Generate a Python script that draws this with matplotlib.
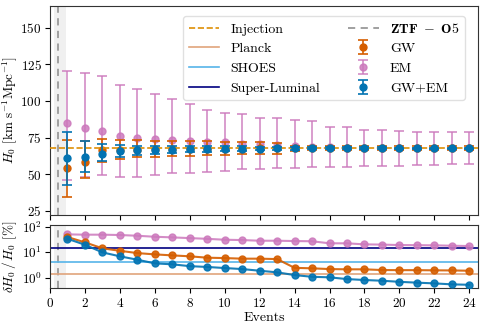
import numpy as np
import matplotlib
matplotlib.use("Agg")
import matplotlib.pyplot as plt
from matplotlib.ticker import LogLocator, NullLocator

plt.rcParams['font.family'] = 'serif'
plt.rcParams['font.serif'] = ['cmr10', 'DejaVu Serif']
plt.rcParams['mathtext.fontset'] = 'cm'
plt.rcParams['axes.formatter.use_mathtext'] = True
plt.rcParams['axes.unicode_minus'] = False

events = np.arange(1, 25)

injection = 67.7
planck_pct = 1.37
shoes_pct = 4.05
superlum_pct = 14.7
ztf_line = 0.45
ztf_band = (0.25, 0.9)

gw_val = [54.5, 58.6, 66.3, 66.2, 66.8, 67.0, 67.2, 67.3, 67.4, 67.5, 67.5, 67.6,
          67.6, 67.7, 67.7, 67.7, 67.7, 67.7, 67.7, 67.7, 67.7, 67.7, 67.7, 67.7]
gw_up = [19.0, 14.1, 8.0, 7.4, 6.3, 5.8, 5.4, 5.1, 4.9, 4.7, 4.3, 4.2,
         3.9, 1.6, 1.55, 1.45, 1.4, 1.4, 1.35, 1.3, 1.3, 1.3, 1.3, 1.25]
gw_lo = [20.5, 11.0, 8.0, 6.0, 5.2, 5.0, 4.8, 4.6, 4.4, 4.3, 4.0, 3.9,
         3.7, 1.6, 1.55, 1.45, 1.4, 1.4, 1.35, 1.3, 1.3, 1.3, 1.3, 1.25]

em_val = [84.8, 81.8, 79.3, 75.9, 74.5, 74.3, 73.4, 72.5, 71.8, 71.8, 70.9, 70.4,
          69.9, 69.0, 68.7, 68.2, 68.0, 67.9, 67.8, 67.8, 67.7, 67.7, 67.7, 67.7]
em_top = [120.5, 118.9, 116.8, 110.7, 108.0, 105.0, 101.6, 98.2, 94.1, 92.0, 90.9, 88.6,
          88.6, 87.3, 86.3, 82.5, 82.0, 80.4, 80.0, 79.5, 79.1, 79.1, 78.8, 78.6]
em_bot = [46.1, 47.7, 49.3, 48.1, 48.3, 49.5, 50.9, 50.9, 51.5, 52.2, 53.4, 53.8,
          54.0, 54.3, 54.7, 55.0, 55.0, 55.2, 55.5, 55.7, 56.3, 56.5, 56.8, 56.8]

gwem_val = [61.3, 61.8, 64.0, 65.9, 66.3, 66.5, 66.8, 67.0, 67.2, 67.3, 67.4, 67.5,
            67.6, 67.6, 67.7, 67.7, 67.7, 67.7, 67.7, 67.7, 67.7, 67.7, 67.7, 67.7]
gwem_up = [17.5, 10.9, 6.4, 4.3, 3.2, 2.6, 2.4, 2.2, 1.9, 1.7, 1.5, 1.3,
           1.1, 0.9, 0.75, 0.7, 0.6, 0.55, 0.5, 0.47, 0.43, 0.4, 0.37, 0.35]
gwem_lo = [18.9, 10.3, 5.0, 4.3, 3.3, 2.6, 2.4, 2.2, 1.9, 1.7, 1.5, 1.3,
           1.1, 0.9, 0.75, 0.7, 0.6, 0.55, 0.5, 0.47, 0.43, 0.4, 0.37, 0.35]

gw_pct = [38.7, 24.0, 14.0, 11.2, 9.1, 8.1, 7.4, 6.8, 6.0, 5.8, 5.5, 5.5,
          5.3, 2.4, 2.3, 2.15, 2.1, 2.1, 1.97, 1.95, 1.95, 1.92, 1.9, 1.85]
em_pct = [49.4, 48.0, 48.0, 46.5, 43.6, 39.8, 37.6, 35.2, 33.0, 30.4, 29.5, 27.8,
          27.8, 27.0, 26.5, 22.0, 22.0, 20.0, 19.6, 18.8, 18.6, 18.3, 17.7, 17.2]
gwem_pct = [33.2, 19.3, 9.7, 6.8, 5.0, 3.6, 3.3, 2.8, 2.6, 2.36, 2.15, 1.85,
            1.6, 1.25, 1.07, 1.02, 0.87, 0.8, 0.75, 0.68, 0.63, 0.59, 0.54, 0.52]

c_gw = '#d55e00'
c_em = '#cc78bc'
c_gwem = '#0173b2'
c_inj = '#de8f05'
c_planck = '#e0a47c'
c_shoes = '#56b4e9'
c_sl = '#000080'

fig = plt.figure(figsize=(4.84, 3.28), dpi=100)
ax1 = fig.add_axes([0.1033, 0.3445, 0.8843, 0.6372])
ax2 = fig.add_axes([0.1033, 0.1229, 0.8843, 0.1911], sharex=ax1)

for ax in (ax1, ax2):
    ax.axvspan(*ztf_band, color='0.94', lw=0, zorder=0)

ax1.axvline(ztf_line, color='0.6', ls='--', lw=1.3, dashes=(4, 3), label=r'$\mathbf{ZTF\ -\ O5}$', zorder=1)
ax2.axvline(ztf_line, color='0.6', ls='--', lw=1.3, dashes=(4, 3), zorder=1)

h_inj = ax1.axhline(injection, color=c_inj, ls='--', lw=1.2, label='Injection', zorder=5)

em_err = [np.array(em_val) - np.array(em_bot), np.array(em_top) - np.array(em_val)]
ax1.errorbar(events, em_val, yerr=em_err, fmt='o', color=c_em, ms=5, capsize=3.5,
             elinewidth=1.2, capthick=1.2, alpha=0.85, label='EM', zorder=3)
ax1.errorbar(events, gw_val, yerr=[gw_lo, gw_up], fmt='o', color=c_gw, ms=5, capsize=3.5,
             elinewidth=1.2, capthick=1.2, label='GW', zorder=4)
ax1.errorbar(events, gwem_val, yerr=[gwem_lo, gwem_up], fmt='o', color=c_gwem, ms=5, capsize=3.5,
             elinewidth=1.2, capthick=1.2, label='GW+EM', zorder=6)

h_planck, = ax1.plot([], [], color=c_planck, lw=1.2, label='Planck')
h_shoes, = ax1.plot([], [], color=c_shoes, lw=1.2, label='SHOES')
h_sl, = ax1.plot([], [], color=c_sl, lw=1.2, label='Super-Luminal')

ax1.set_ylim(22, 165)
ax1.set_yticks([25, 50, 75, 100, 125, 150])
ax1.set_ylabel(r'$H_0$ [km s$^{-1}$Mpc$^{-1}$]', fontsize=9.5)
ax1.yaxis.set_label_coords(-0.072, 0.5)
plt.setp(ax1.get_xticklabels(), visible=False)

handles, labels = ax1.get_legend_handles_labels()
order = ['Injection', 'Planck', 'SHOES', 'Super-Luminal', r'$\mathbf{ZTF\ -\ O5}$', 'GW', 'EM', 'GW+EM']
hmap = dict(zip(labels, handles))
ax1.legend([hmap[k] for k in order], order, ncol=2, loc='upper right', fontsize=10,
           framealpha=0.8, edgecolor='0.85', handlelength=2.2, columnspacing=2.0,
           labelspacing=0.5, borderpad=0.4, bbox_to_anchor=(0.985, 0.985))

ax2.axhline(planck_pct, color=c_planck, lw=1.2, zorder=2)
ax2.axhline(shoes_pct, color=c_shoes, lw=1.2, zorder=2)
ax2.axhline(superlum_pct, color=c_sl, lw=1.2, zorder=2)
ax2.plot(events, em_pct, 'o-', color=c_em, ms=5, lw=1.5, alpha=0.85, zorder=3)
ax2.plot(events, gw_pct, 'o-', color=c_gw, ms=5, lw=1.5, alpha=0.9, zorder=4)
ax2.plot(events, gwem_pct, 'o-', color=c_gwem, ms=5, lw=1.5, alpha=0.9, zorder=5)
ax2.set_yscale('log')
ax2.set_ylim(0.4, 115)
ax2.yaxis.set_major_locator(LogLocator(base=10, numticks=5))
ax2.yaxis.set_minor_locator(NullLocator())
ax2.set_ylabel(r'$\delta H_0\,/\,H_0$ [%]', fontsize=9.5)
ax2.yaxis.set_label_coords(-0.072, 0.5)
ax2.set_xlim(0, 24.5)
ax2.set_xticks(np.arange(0, 25, 2))
ax2.set_xlabel('Events', fontsize=10, labelpad=1)

for ax in (ax1, ax2):
    ax.tick_params(labelsize=9.5)
    ax.tick_params(axis='y', pad=2.5)
    for s in ax.spines.values():
        s.set_color('0.2')

fig.savefig('out.png', dpi=100)
